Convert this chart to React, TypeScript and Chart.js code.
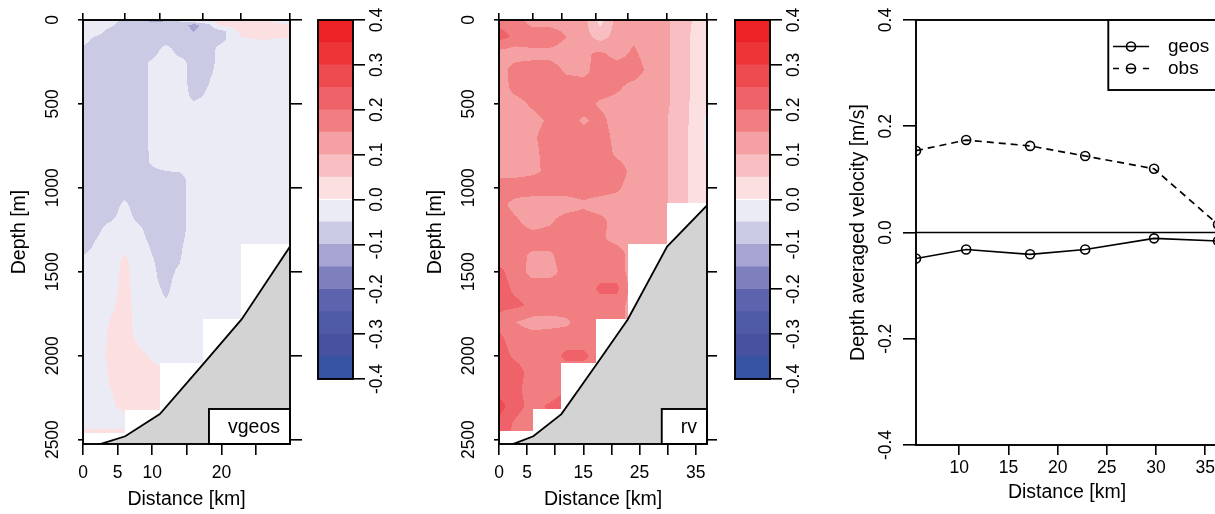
import React, { useEffect, useRef } from 'react';
import { Chart, registerables } from 'chart.js';

Chart.register(...registerables);

const FONT = '"Liberation Sans", Arial, Helvetica, sans-serif';
const TICK_FONT = `17.5px ${FONT}`;
const TITLE_FONT = `19.5px ${FONT}`;
const FRAME_WIDTH = 1.9;
const TICK_WIDTH = 1.6;

// Colour levels (m/s): 16 bands of 0.05 between -0.4 and 0.4
const levelEdges = [-0.4, -0.35, -0.3, -0.25, -0.2, -0.15, -0.1, -0.05, 0, 0.05, 0.1, 0.15, 0.2, 0.25, 0.3, 0.35, 0.4];
const levelColors = [
  '#3754A4', '#4751A0', '#4F5AA7', '#5E63AD', '#7E7FBC', '#A6A5D2', '#CBCAE4', '#EBEBF5',
  '#FCDFE1', '#F9BEC1', '#F5A0A3', '#F17E81', '#EF6269', '#EE4B51', '#ED3437', '#EC2227',
];
const colorbarTicks = [-0.4, -0.3, -0.2, -0.1, 0, 0.1, 0.2, 0.3, 0.4];
const colorbarTickLabels = ['-0.4', '-0.3', '-0.2', '-0.1', '0.0', '0.1', '0.2', '0.3', '0.4'];

// Depth axis
const depthTicks = [0, 500, 1000, 1500, 2000, 2500];
const depthMax = 2526;

// Bottom topography along the section
const bottomKm = [0, 2.7, 6.1, 11.1, 17.2, 22.9, 29.9, 37.0];
const bottomDepth = [2560, 2524, 2480, 2348, 2058, 1784, 1350, 1105];

// Geostrophic velocity section (vgeos), m/s
const vgeosKm = [0, 2, 4, 6, 8, 10, 12, 14, 16, 18, 20, 23, 26, 30];
const vgeosDepth = [0, 30, 70, 120, 180, 260, 350, 450, 550, 700, 850, 950, 1050, 1150, 1250, 1350, 1450, 1550, 1700, 1850, 2000, 2150, 2300, 2400, 2450, 2530];
const vgeosField = [
  [-0.03, -0.03, -0.03, -0.06, -0.08, -0.12, -0.11, -0.04, 0.01, 0.02, 0.02, 0.02, 0.02, -0.07],
  [0.01, -0.03, -0.04, -0.08, -0.07, -0.08, -0.07, -0.07, -0.12, -0.07, 0.01, 0.02, 0.02, 0.02],
  [-0.03, -0.03, -0.07, -0.07, -0.07, -0.07, -0.07, -0.07, -0.1, -0.07, -0.07, 0.02, 0.02, 0.02],
  [-0.03, -0.07, -0.07, -0.07, -0.07, -0.07, -0.07, -0.07, -0.07, -0.07, -0.06, -0.01, 0.0, -0.01],
  [-0.07, -0.07, -0.07, -0.07, -0.07, -0.07, -0.03, -0.07, -0.07, -0.07, -0.03, -0.03, -0.03, -0.03],
  [-0.07, -0.07, -0.07, -0.07, -0.07, -0.04, -0.03, -0.03, -0.07, -0.07, -0.03, -0.03, -0.03, -0.03],
  [-0.07, -0.07, -0.07, -0.07, -0.07, -0.04, -0.03, -0.03, -0.07, -0.055, -0.03, -0.03, -0.03, -0.03],
  [-0.07, -0.07, -0.07, -0.07, -0.07, -0.04, -0.03, -0.03, -0.06, -0.045, -0.03, -0.03, -0.03, -0.03],
  [-0.07, -0.07, -0.07, -0.07, -0.07, -0.04, -0.03, -0.03, -0.03, -0.03, -0.03, -0.03, -0.03, -0.03],
  [-0.07, -0.07, -0.07, -0.07, -0.07, -0.04, -0.03, -0.03, -0.03, -0.03, -0.03, -0.03, -0.03, -0.03],
  [-0.07, -0.07, -0.07, -0.07, -0.07, -0.045, -0.03, -0.03, -0.03, -0.03, -0.03, -0.03, -0.03, -0.03],
  [-0.07, -0.07, -0.07, -0.07, -0.07, -0.07, -0.07, -0.065, -0.03, -0.03, -0.03, -0.03, -0.03, -0.03],
  [-0.07, -0.07, -0.07, -0.055, -0.07, -0.07, -0.07, -0.065, -0.03, -0.03, -0.03, -0.03, -0.03, -0.03],
  [-0.07, -0.07, -0.07, -0.03, -0.07, -0.07, -0.07, -0.065, -0.03, -0.03, -0.03, -0.03, -0.03, -0.03],
  [-0.07, -0.06, -0.03, -0.03, -0.04, -0.07, -0.07, -0.065, -0.03, -0.03, -0.03, -0.03, -0.03, -0.03],
  [-0.07, -0.04, -0.03, -0.01, -0.03, -0.055, -0.07, -0.055, -0.03, -0.03, -0.03, -0.03, -0.03, -0.03],
  [-0.03, -0.03, -0.03, 0.015, -0.03, -0.045, -0.07, -0.05, -0.03, -0.03, -0.03, -0.03, -0.03, -0.03],
  [-0.03, -0.03, -0.03, 0.02, -0.03, -0.04, -0.065, -0.03, -0.03, -0.03, -0.03, -0.03, -0.03, -0.03],
  [-0.03, -0.03, -0.01, 0.02, -0.02, -0.03, -0.045, -0.03, -0.03, -0.03, -0.03, -0.03, -0.03, -0.03],
  [-0.03, -0.03, 0.01, 0.02, -0.015, -0.03, -0.03, -0.03, -0.03, -0.03, -0.03, -0.03, -0.03, -0.03],
  [-0.03, -0.03, 0.015, 0.02, 0.01, -0.005, -0.02, -0.03, -0.03, -0.03, -0.03, -0.03, -0.03, -0.03],
  [-0.03, -0.03, 0.005, 0.02, 0.02, 0.02, 0.02, -0.03, -0.03, -0.03, -0.03, -0.03, -0.03, -0.03],
  [-0.03, -0.03, -0.01, 0.02, 0.01, 0.01, 0.01, -0.03, -0.03, -0.03, -0.03, -0.03, -0.03, -0.03],
  [-0.03, -0.03, -0.03, -0.03, -0.03, -0.03, -0.03, -0.03, -0.03, -0.03, -0.03, -0.03, -0.03, -0.03],
  [0.01, 0.01, 0.01, 0.01, -0.03, -0.03, -0.03, -0.03, -0.03, -0.03, -0.03, -0.03, -0.03, -0.03],
  [0.01, 0.01, 0.01, 0.01, -0.03, -0.03, -0.03, -0.03, -0.03, -0.03, -0.03, -0.03, -0.03, -0.03],
];
const vgeosStations = [0, 6.1, 11.1, 17.3, 22.8, 29.9];
const vgeosDataBottom = [2458, 2321, 2042, 1780, 1333];
const vgeosDistTicks = [0, 5, 10, 15, 20, 25];
const vgeosDistLabels = ['0', '5', '10', '', '20', ''];

// Observed velocity section (rv), m/s
const rvKm = [0, 3, 6, 9, 12, 15, 18, 21, 24, 27, 30, 33, 35, 37];
const rvDepth = [0, 100, 200, 300, 400, 500, 600, 700, 800, 900, 1000, 1100, 1200, 1300, 1400, 1500, 1600, 1700, 1800, 1900, 2000, 2100, 2200, 2300, 2400, 2500];
const rvField = [
  [0.18, 0.18, 0.12, 0.12, 0.12, 0.12, 0.03, 0.12, 0.12, 0.12, 0.105, 0.07, 0.04, 0.03],
  [0.22, 0.19, 0.19, 0.19, 0.15, 0.12, 0.08, 0.12, 0.14, 0.12, 0.105, 0.07, 0.03, 0.02],
  [0.13, 0.12, 0.13, 0.13, 0.12, 0.14, 0.16, 0.13, 0.16, 0.12, 0.105, 0.07, 0.03, 0.02],
  [0.12, 0.18, 0.18, 0.18, 0.14, 0.13, 0.18, 0.18, 0.18, 0.13, 0.105, 0.07, 0.03, 0.02],
  [0.12, 0.17, 0.18, 0.18, 0.18, 0.18, 0.18, 0.16, 0.13, 0.12, 0.105, 0.07, 0.03, 0.01],
  [0.13, 0.13, 0.16, 0.18, 0.18, 0.18, 0.14, 0.13, 0.12, 0.12, 0.105, 0.065, 0.03, 0.01],
  [0.12, 0.12, 0.13, 0.16, 0.18, 0.14, 0.17, 0.12, 0.12, 0.12, 0.1, 0.065, 0.025, -0.01],
  [0.12, 0.12, 0.14, 0.18, 0.18, 0.18, 0.18, 0.13, 0.12, 0.12, 0.1, 0.06, 0.025, -0.01],
  [0.12, 0.12, 0.13, 0.18, 0.18, 0.18, 0.18, 0.14, 0.12, 0.12, 0.1, 0.06, 0.025, -0.005],
  [0.13, 0.13, 0.14, 0.16, 0.18, 0.18, 0.18, 0.18, 0.13, 0.12, 0.1, 0.06, 0.03, 0.01],
  [0.18, 0.18, 0.18, 0.18, 0.18, 0.18, 0.18, 0.16, 0.12, 0.12, 0.1, 0.06, 0.03, 0.02],
  [0.17, 0.13, 0.12, 0.12, 0.12, 0.14, 0.12, 0.12, 0.12, 0.13, 0.1, 0.06, 0.03, 0.02],
  [0.18, 0.16, 0.12, 0.14, 0.18, 0.18, 0.17, 0.12, 0.15, 0.12, 0.1, 0.06, 0.03, 0.02],
  [0.18, 0.18, 0.18, 0.18, 0.18, 0.18, 0.16, 0.13, 0.12, 0.12, 0.1, 0.06, 0.03, 0.02],
  [0.18, 0.17, 0.14, 0.14, 0.18, 0.18, 0.18, 0.18, 0.12, 0.12, 0.1, 0.06, 0.03, 0.02],
  [0.21, 0.18, 0.13, 0.13, 0.17, 0.18, 0.18, 0.18, 0.12, 0.12, 0.1, 0.06, 0.03, 0.02],
  [0.22, 0.19, 0.18, 0.18, 0.18, 0.17, 0.21, 0.21, 0.12, 0.12, 0.1, 0.06, 0.03, 0.02],
  [0.21, 0.21, 0.19, 0.18, 0.18, 0.18, 0.18, 0.18, 0.12, 0.12, 0.1, 0.06, 0.03, 0.02],
  [0.19, 0.15, 0.13, 0.13, 0.14, 0.18, 0.18, 0.18, 0.12, 0.12, 0.1, 0.06, 0.03, 0.02],
  [0.21, 0.18, 0.17, 0.18, 0.18, 0.18, 0.18, 0.18, 0.12, 0.12, 0.1, 0.06, 0.03, 0.02],
  [0.22, 0.19, 0.18, 0.18, 0.21, 0.21, 0.18, 0.18, 0.12, 0.12, 0.1, 0.06, 0.03, 0.02],
  [0.23, 0.22, 0.18, 0.18, 0.18, 0.18, 0.18, 0.18, 0.12, 0.12, 0.1, 0.06, 0.03, 0.02],
  [0.23, 0.21, 0.18, 0.16, 0.2, 0.19, 0.18, 0.18, 0.12, 0.12, 0.1, 0.06, 0.03, 0.02],
  [0.27, 0.22, 0.18, 0.21, 0.24, 0.2, 0.18, 0.18, 0.12, 0.12, 0.1, 0.06, 0.03, 0.02],
  [0.24, 0.19, 0.17, 0.18, 0.18, 0.18, 0.18, 0.18, 0.12, 0.12, 0.1, 0.06, 0.03, 0.02],
  [0.22, 0.18, 0.17, 0.17, 0.17, 0.17, 0.18, 0.18, 0.12, 0.12, 0.1, 0.06, 0.03, 0.02],
];
const rvStations = [0, 6.1, 11.1, 17.2, 22.9, 29.9, 37.0];
const rvDataBottom = [2450, 2317, 2044, 1782, 1333, 1091];
const rvDistTicks = [0, 5, 10, 15, 20, 25, 30, 35];
const rvDistLabels = ['0', '5', '', '15', '', '25', '', '35'];

// Depth-averaged velocity (m/s)
const avgKm = [5.6, 10.7, 17.2, 22.8, 29.8, 36.3];
const geosAvg = [-0.049, -0.032, -0.041, -0.032, -0.011, -0.016];
const obsAvg = [0.154, 0.174, 0.163, 0.144, 0.12, 0.015];
const velTicks = [-0.4, -0.2, 0, 0.2, 0.4];
const velTickLabels = ['-0.4', '-0.2', '0.0', '0.2', '0.4'];
const avgDistTicks = [10, 15, 20, 25, 30, 35];

const levelRGB = levelColors.map((h) => [
  parseInt(h.slice(1, 3), 16),
  parseInt(h.slice(3, 5), 16),
  parseInt(h.slice(5, 7), 16),
]);

function bandIndex(v: number) {
  const step = levelEdges[1] - levelEdges[0];
  const i = Math.floor((v - levelEdges[0]) / step + 1e-9);
  return Math.min(levelColors.length - 1, Math.max(0, i));
}

function segIndex(nodes: number[], v: number) {
  let i = 0;
  while (i < nodes.length - 2 && v > nodes[i + 1]) i++;
  return i;
}

function sampleField(xs: number[], ds: number[], grid: number[][], x: number, d: number) {
  const i = segIndex(xs, x);
  const j = segIndex(ds, d);
  const tx = Math.min(1, Math.max(0, (x - xs[i]) / (xs[i + 1] - xs[i])));
  const ty = Math.min(1, Math.max(0, (d - ds[j]) / (ds[j + 1] - ds[j])));
  const top = grid[j][i] * (1 - tx) + grid[j][i + 1] * tx;
  const bot = grid[j + 1][i] * (1 - tx) + grid[j + 1][i + 1] * tx;
  return top * (1 - ty) + bot * ty;
}

function rotText(ctx: CanvasRenderingContext2D, text: string, x: number, y: number) {
  ctx.save();
  ctx.translate(x, y);
  ctx.rotate(-Math.PI / 2);
  ctx.textAlign = 'center';
  ctx.textBaseline = 'middle';
  ctx.fillText(text, 0, 0);
  ctx.restore();
}

function axis(position: string, min: number, max: number, ticks: number[], tickLength: number, size: number, reverse = false) {
  const vertical = position === 'left' || position === 'right';
  return {
    type: 'linear',
    position,
    min,
    max,
    reverse,
    afterBuildTicks: (sc: any) => {
      sc.ticks = ticks.map((v) => ({ value: v }));
    },
    afterFit: (sc: any) => {
      if (vertical) sc.width = size;
      else sc.height = size;
    },
    ticks: { display: false },
    grid: { display: true, drawOnChartArea: false, drawTicks: true, tickLength, color: '#000', lineWidth: TICK_WIDTH },
    border: { display: false },
  };
}

type Section = {
  km: number[];
  depth: number[];
  field: number[][];
  stations: number[];
  dataBottom: number[];
  kmMax: number;
  distTicks: number[];
  distLabels: string[];
  name: string;
};

function sectionConfig(s: Section, w: number, h: number, left: number, right: number, rightTick: number): any {
  const top = 20;
  const bottom = 444;
  const fieldLayer = {
    id: 'fieldLayer',
    beforeDatasetsDraw(chart: any) {
      const { ctx, chartArea: a, scales } = chart;
      const cw = Math.round(a.right - a.left);
      const ch = Math.round(a.bottom - a.top);
      const off = document.createElement('canvas');
      off.width = cw;
      off.height = ch;
      const octx = off.getContext('2d')!;
      const img = octx.createImageData(cw, ch);
      for (let px = 0; px < cw; px++) {
        const km = scales.x.getValueForPixel(a.left + px + 0.5);
        const k = segIndex(s.stations, km);
        const limit = s.dataBottom[k];
        for (let py = 0; py < ch; py++) {
          const d = scales.y.getValueForPixel(a.top + py + 0.5);
          if (d > limit) continue;
          const c = levelRGB[bandIndex(sampleField(s.km, s.depth, s.field, km, d))];
          const o = (py * cw + px) * 4;
          img.data[o] = c[0];
          img.data[o + 1] = c[1];
          img.data[o + 2] = c[2];
          img.data[o + 3] = 255;
        }
      }
      octx.putImageData(img, 0, 0);
      ctx.drawImage(off, a.left, a.top);
    },
  };
  const annotate = {
    id: 'annotate',
    afterDraw(chart: any) {
      const { ctx, chartArea: a, scales } = chart;
      ctx.save();
      ctx.fillStyle = '#000';
      ctx.strokeStyle = '#000';
      ctx.font = TICK_FONT;
      depthTicks.forEach((v) => rotText(ctx, String(v), a.left - 29.5, scales.y.getPixelForValue(v)));
      ctx.textAlign = 'center';
      ctx.textBaseline = 'middle';
      s.distTicks.forEach((v, i) => {
        if (s.distLabels[i]) ctx.fillText(s.distLabels[i], scales.x.getPixelForValue(v), 473);
      });
      ctx.font = TITLE_FONT;
      ctx.fillText('Distance [km]', (a.left + a.right) / 2, 500);
      rotText(ctx, 'Depth [m]', a.left - 63, (a.top + a.bottom) / 2);
      // section name box in the lower right corner
      const tw = ctx.measureText(s.name).width;
      const bw = tw + 29;
      const bh = 35;
      ctx.fillStyle = '#fff';
      ctx.fillRect(a.right - bw, a.bottom - bh, bw, bh);
      ctx.lineWidth = FRAME_WIDTH;
      ctx.strokeRect(a.right - bw, a.bottom - bh, bw, bh);
      ctx.fillStyle = '#000';
      ctx.textAlign = 'right';
      ctx.fillText(s.name, a.right - 10, a.bottom - 16);
      ctx.strokeRect(a.left, a.top, a.right - a.left, a.bottom - a.top);
      ctx.restore();
    },
  };
  return {
    type: 'scatter',
    data: {
      datasets: [
        {
          data: bottomKm.map((x, i) => ({ x, y: bottomDepth[i] })),
          showLine: true,
          borderColor: '#000',
          borderWidth: 1.8,
          pointRadius: 0,
          backgroundColor: '#D3D3D3',
          fill: { value: depthMax },
          tension: 0,
          clip: 0,
        },
      ],
    },
    options: {
      responsive: false,
      animation: false,
      events: [],
      layout: { padding: 0 },
      plugins: { legend: { display: false }, tooltip: { enabled: false } },
      scales: {
        x: axis('bottom', 0, s.kmMax, s.distTicks, 11, h - bottom),
        x2: axis('top', 0, s.kmMax, s.stations, 7, top),
        y: axis('left', 0, depthMax, depthTicks, 5, left, true),
        y2: axis('right', 0, depthMax, depthTicks, rightTick, w - right, true),
      },
    },
    plugins: [fieldLayer, annotate],
  };
}

function colorbarConfig(padLeft: number, yWidth: number, h: number): any {
  const frame = {
    id: 'cbFrame',
    afterDraw(chart: any) {
      const { ctx, chartArea: a, scales } = chart;
      ctx.save();
      ctx.strokeStyle = '#000';
      ctx.lineWidth = FRAME_WIDTH;
      ctx.strokeRect(a.left, a.top, a.right - a.left, a.bottom - a.top);
      ctx.fillStyle = '#000';
      ctx.font = TICK_FONT;
      colorbarTicks.forEach((v, i) => rotText(ctx, colorbarTickLabels[i], a.right + 24.5, scales.y.getPixelForValue(v)));
      ctx.restore();
    },
  };
  return {
    type: 'bar',
    data: {
      labels: ['band'],
      datasets: levelColors.map((c, i) => ({
        data: [[levelEdges[i], levelEdges[i + 1]]],
        backgroundColor: c,
        borderWidth: 0,
        barPercentage: 1,
        categoryPercentage: 1,
        grouped: false,
      })),
    },
    options: {
      responsive: false,
      animation: false,
      events: [],
      layout: { padding: { left: padLeft, top: 20, bottom: h - 379, right: 0 } },
      plugins: { legend: { display: false }, tooltip: { enabled: false } },
      scales: {
        x: { display: false },
        y: axis('right', -0.4, 0.4, colorbarTicks, 12, yWidth),
      },
    },
    plugins: [frame],
  };
}

function averageConfig(): any {
  const annotate = {
    id: 'avgAnnotate',
    afterDraw(chart: any) {
      const { ctx, chartArea: a, scales } = chart;
      ctx.save();
      ctx.fillStyle = '#000';
      ctx.strokeStyle = '#000';
      ctx.font = TICK_FONT;
      velTicks.forEach((v, i) => rotText(ctx, velTickLabels[i], a.left - 29.5, scales.y.getPixelForValue(v)));
      ctx.textAlign = 'center';
      ctx.textBaseline = 'middle';
      avgDistTicks.forEach((v) => ctx.fillText(String(v), scales.x.getPixelForValue(v), 468));
      ctx.font = TITLE_FONT;
      ctx.fillText('Distance [km]', (a.left + a.right) / 2, 493);
      rotText(ctx, 'Depth averaged velocity [m/s]', a.left - 57.7, (a.top + a.bottom) / 2);
      ctx.lineWidth = FRAME_WIDTH;
      ctx.strokeRect(a.left, a.top, a.right - a.left, a.bottom - a.top);
      // legend
      const lx = 283.3;
      ctx.fillStyle = '#fff';
      ctx.fillRect(lx, a.top, 160, 70);
      ctx.strokeRect(lx, a.top, 160, 70);
      ctx.fillStyle = '#000';
      ctx.lineWidth = 1.6;
      const rows = [
        { label: 'geos', y: 46.5, segs: [[288, 324]] },
        { label: 'obs', y: 68.5, segs: [[288, 294], [301, 311], [318, 324]] },
      ];
      ctx.font = `19px ${FONT}`;
      ctx.textAlign = 'left';
      rows.forEach((r) => {
        ctx.beginPath();
        r.segs.forEach(([x0, x1]) => {
          ctx.moveTo(x0, r.y);
          ctx.lineTo(x1, r.y);
        });
        ctx.stroke();
        ctx.beginPath();
        ctx.arc(306, r.y, 4.5, 0, Math.PI * 2);
        ctx.stroke();
        ctx.fillText(r.label, 343, r.y);
      });
      ctx.restore();
    },
  };
  const xMin = avgKm[0];
  const xMax = avgKm[avgKm.length - 1];
  const pointStyle = {
    showLine: true,
    borderColor: '#000',
    borderWidth: 1.7,
    pointRadius: 4.5,
    pointBorderWidth: 1.6,
    pointBorderColor: '#000',
    pointBackgroundColor: 'rgba(0,0,0,0)',
    tension: 0,
    clip: 0,
  };
  return {
    type: 'scatter',
    data: {
      datasets: [
        {
          data: [{ x: xMin, y: 0 }, { x: xMax, y: 0 }],
          showLine: true,
          borderColor: '#000',
          borderWidth: 1.7,
          pointRadius: 0,
          clip: 0,
        },
        { label: 'geos', data: avgKm.map((x, i) => ({ x, y: geosAvg[i] })), ...pointStyle },
        { label: 'obs', data: avgKm.map((x, i) => ({ x, y: obsAvg[i] })), ...pointStyle, borderDash: [7, 5] },
      ],
    },
    options: {
      responsive: false,
      animation: false,
      events: [],
      layout: { padding: { top: 20, right: 22, left: 0, bottom: 0 } },
      plugins: { legend: { display: false }, tooltip: { enabled: false } },
      scales: {
        x: axis('bottom', xMin, xMax, avgDistTicks, 10, 69),
        y: axis('left', -0.4, 0.4, velTicks, 13, 91),
      },
    },
    plugins: [annotate],
  };
}

function ChartCanvas({ make, left, width }: { make: () => any; left: number; width: number }) {
  const ref = useRef<HTMLCanvasElement>(null);
  useEffect(() => {
    const chart = new Chart(ref.current as HTMLCanvasElement, make());
    return () => chart.destroy();
  }, []);
  return (
    <canvas
      ref={ref}
      width={width}
      height={514}
      style={{ position: 'absolute', left, top: 0, width, height: 514 }}
    />
  );
}

const vgeosSection: Section = {
  km: vgeosKm,
  depth: vgeosDepth,
  field: vgeosField,
  stations: vgeosStations,
  dataBottom: vgeosDataBottom,
  kmMax: 29.9,
  distTicks: vgeosDistTicks,
  distLabels: vgeosDistLabels,
  name: 'vgeos',
};

const rvSection: Section = {
  km: rvKm,
  depth: rvDepth,
  field: rvField,
  stations: rvStations,
  dataBottom: rvDataBottom,
  kmMax: 37,
  distTicks: rvDistTicks,
  distLabels: rvDistLabels,
  name: 'rv',
};

export default function App() {
  return (
    <div
      style={{
        position: 'fixed',
        left: 0,
        top: 0,
        width: 1215,
        height: 514,
        overflow: 'hidden',
        background: '#fff',
      }}
    >
      <ChartCanvas left={0} width={310} make={() => sectionConfig(vgeosSection, 310, 514, 83, 290, 12)} />
      <ChartCanvas left={310} width={100} make={() => colorbarConfig(8, 57, 514)} />
      <ChartCanvas left={420} width={300} make={() => sectionConfig(rvSection, 300, 514, 79, 287, 10)} />
      <ChartCanvas left={725} width={100} make={() => colorbarConfig(10, 55, 514)} />
      <ChartCanvas left={825} width={415} make={averageConfig} />
    </div>
  );
}
